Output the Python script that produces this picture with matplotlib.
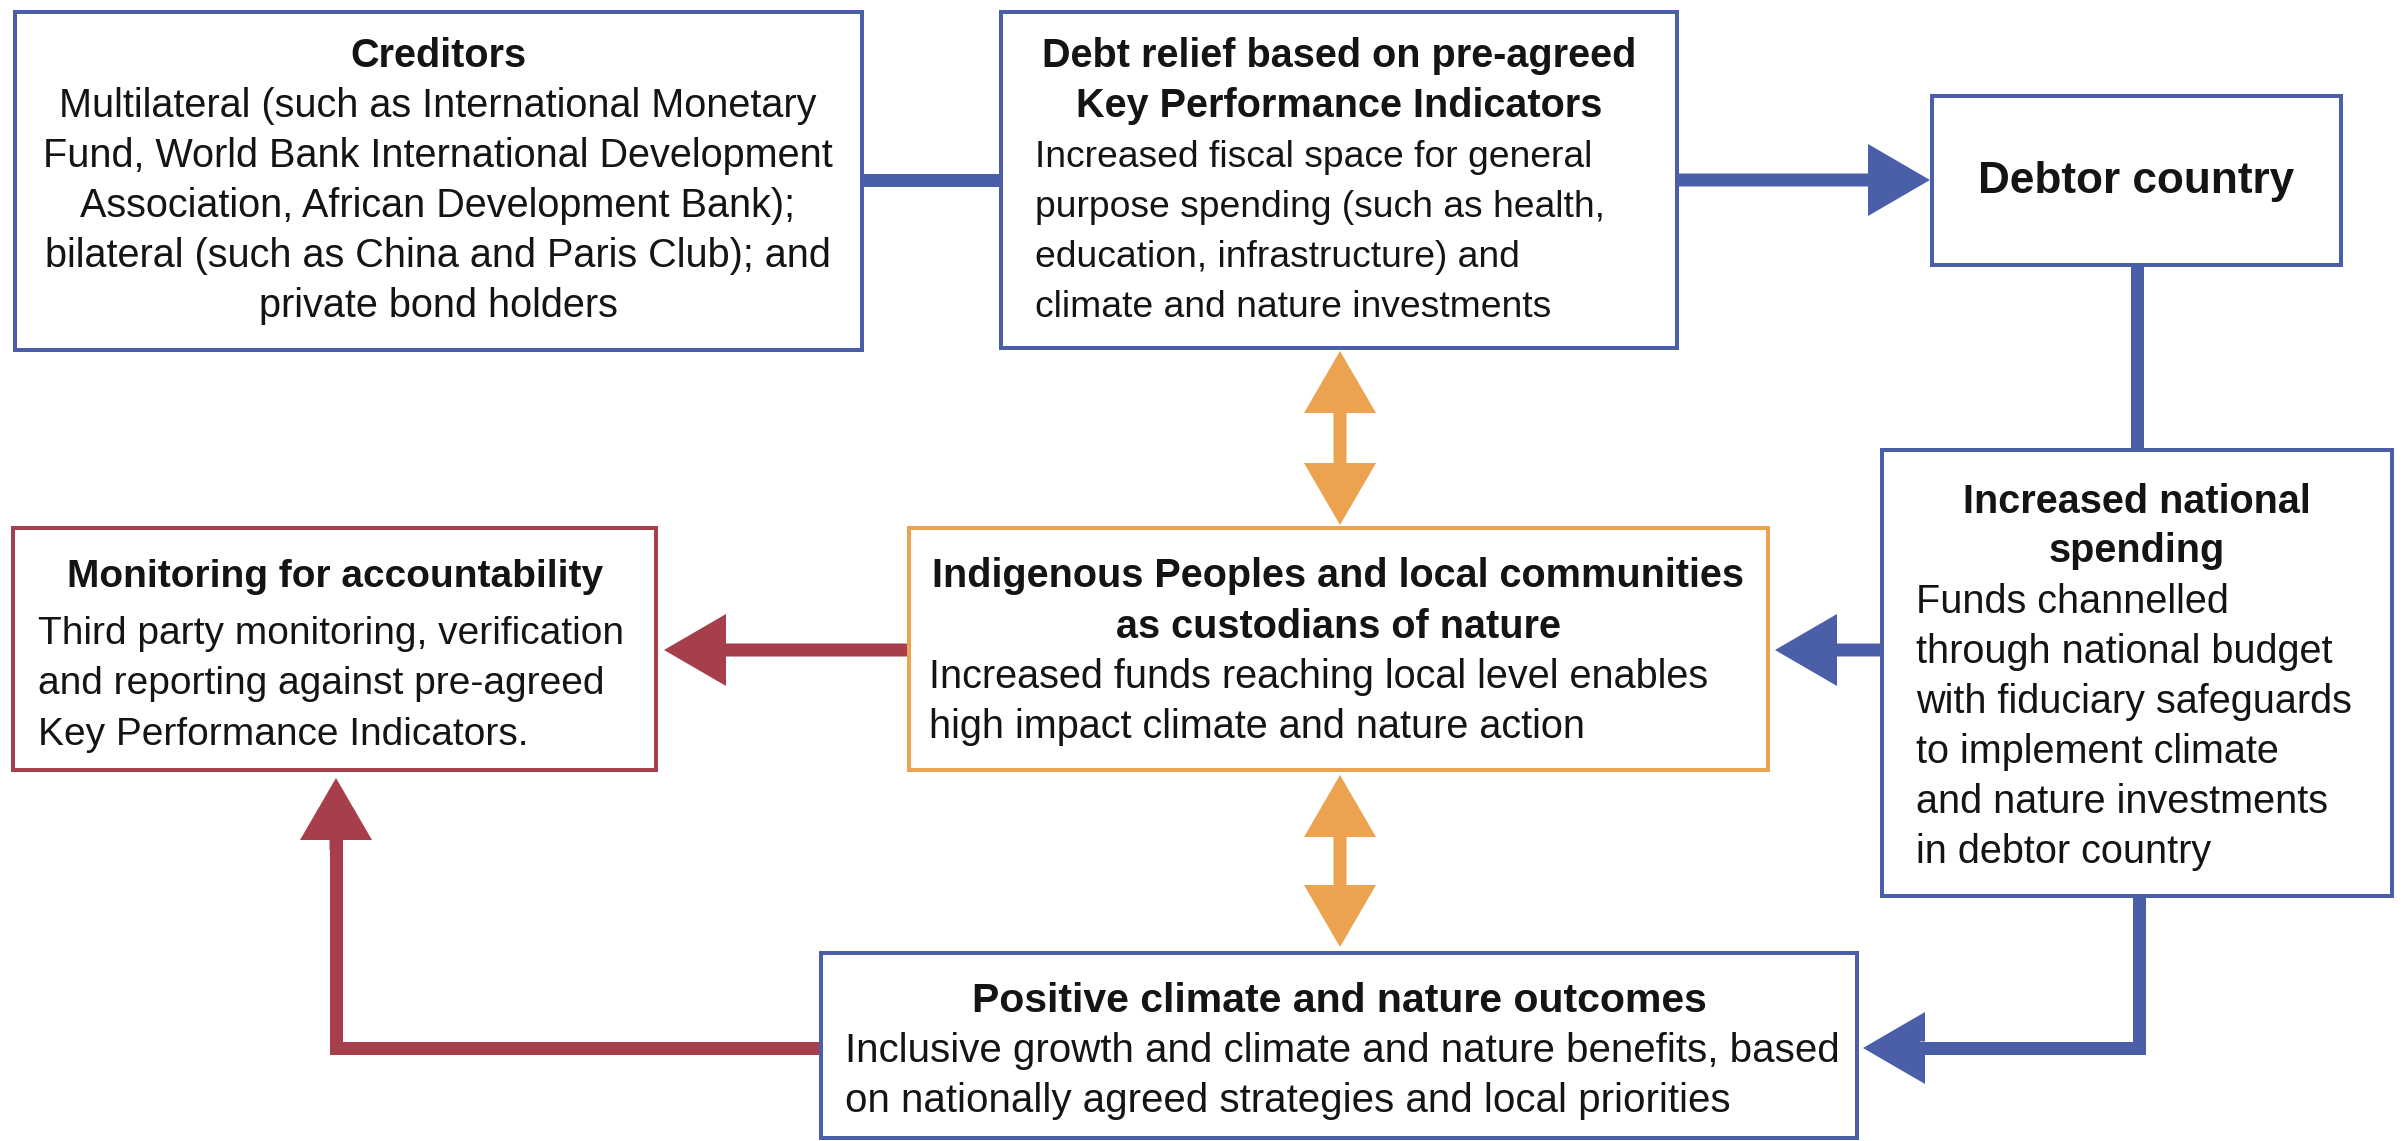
import matplotlib.pyplot as plt
from matplotlib.patches import Rectangle, FancyArrow

plt.rcParams['font.family'] = ['Liberation Sans', 'DejaVu Sans']

BLUE = '#4b5ea8'
RED = '#a63e4b'
ORANGE = '#eca34f'
INK = '#141414'

# texts of the diagram
creditors_title = ["Creditors"]
creditors_body = ["Multilateral (such as International Monetary",
                  "Fund, World Bank International Development",
                  "Association, African Development Bank);",
                  "bilateral (such as China and Paris Club); and",
                  "private bond holders"]
relief_title = ["Debt relief based on pre-agreed", "Key Performance Indicators"]
relief_body = ["Increased fiscal space for general",
               "purpose spending (such as health,",
               "education, infrastructure) and",
               "climate and nature investments"]
debtor_title = ["Debtor country"]
spending_title = ["Increased national", "spending"]
spending_body = ["Funds channelled", "through national budget",
                 "with fiduciary safeguards", "to implement climate",
                 "and nature investments", "in debtor country"]
indigenous_title = ["Indigenous Peoples and local communities",
                    "as custodians of nature"]
indigenous_body = ["Increased funds reaching local level enables",
                   "high impact climate and nature action"]
monitoring_title = ["Monitoring for accountability"]
monitoring_body = ["Third party monitoring, verification",
                   "and reporting against pre-agreed",
                   "Key Performance Indicators."]
outcomes_title = ["Positive climate and nature outcomes"]
outcomes_body = ["Inclusive growth and climate and nature benefits, based",
                 "on nationally agreed strategies and local priorities"]

W, H = 2405, 1141
fig = plt.figure(figsize=(W / 100, H / 100), dpi=100)
ax = fig.add_axes([0, 0, 1, 1])
ax.set_xlim(0, W)
ax.set_ylim(H, 0)
ax.axis('off')

FS = 28.5
LW = 13  # connector thickness in px
PT = 0.72  # px -> pt at 100 dpi


def box(x0, y0, x1, y1, color):
    ax.add_patch(Rectangle((x0, y0), x1 - x0, y1 - y0, fill=False,
                           edgecolor=color, lw=4 * PT, zorder=3))


def lines(texts, x, y0, ha='center', bold=False, size=FS, step=50):
    for i, t in enumerate(texts):
        ax.text(x, y0 + i * step, t, ha=ha, va='baseline', fontsize=size,
                fontweight='bold' if bold else 'normal', color=INK, zorder=4)


def line(xs, ys, color):
    ax.plot(xs, ys, color=color, lw=LW * PT, solid_capstyle='butt',
            solid_joinstyle='miter', zorder=2)


def head(x0, y0, x1, y1, color):
    ax.add_patch(FancyArrow(x0, y0, x1 - x0, y1 - y0, width=LW,
                            head_width=72, head_length=62,
                            length_includes_head=True, color=color,
                            lw=0, zorder=2))


# boxes
box(15, 12, 862, 350, BLUE)
box(1001, 12, 1677, 348, BLUE)
box(1932, 96, 2341, 265, BLUE)
box(1882, 450, 2392, 896, BLUE)
box(909, 528, 1768, 770, ORANGE)
box(13, 528, 656, 770, RED)
box(821, 953, 1857, 1138, BLUE)

# texts
lines(creditors_title, 438, 67, bold=True)
lines(creditors_body, 438, 117)
lines(relief_title, 1339, 67, bold=True)
lines(relief_body, 1035, 167, ha='left', size=26.8)
lines(debtor_title, 2136, 193, bold=True, size=31.8)
lines(spending_title, 2137, 513, bold=True, step=49)
lines(spending_body, 1916, 613, ha='left')
lines(indigenous_title, 1338, 587, bold=True, step=51)
lines(indigenous_body, 929, 688, ha='left')
lines(monitoring_title, 335, 587, bold=True, size=28)
lines(monitoring_body, 38, 644, ha='left', step=50.5, size=28)
lines(outcomes_title, 1339, 1012, bold=True, size=29.5)
lines(outcomes_body, 845, 1062, ha='left', size=29)

# blue connectors
line([862, 1001], [180, 180], BLUE)
head(1677, 180, 1930, 180, BLUE)
line([2137, 2137], [265, 450], BLUE)
head(1882, 650, 1775, 650, BLUE)
line([2139, 2139, 1900], [896, 1048, 1048], BLUE)
head(1920, 1048, 1863, 1048, BLUE)

# red connectors
head(909, 650, 664, 650, RED)
line([821, 336, 336], [1048, 1048, 830], RED)
head(336, 850, 336, 778, RED)

# orange double arrows
for top, bot in [(351, 525), (775, 947)]:
    mid = (top + bot) / 2
    head(1340, mid, 1340, top, ORANGE)
    head(1340, mid, 1340, bot, ORANGE)

fig.savefig('out.png', dpi=100, facecolor='white')
